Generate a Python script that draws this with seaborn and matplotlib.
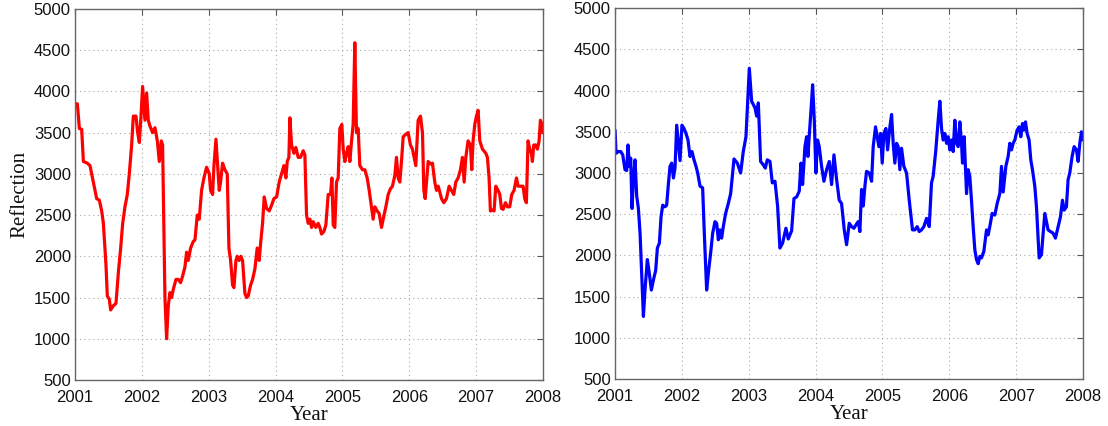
import numpy as np
import pandas as pd
import matplotlib
matplotlib.use("Agg")
import matplotlib.pyplot as plt
import seaborn as sns

# Left panel series (red)
red_years = [
    2001.000, 2001.035, 2001.065, 2001.100, 2001.125, 2001.184, 2001.224, 2001.274,
    2001.324, 2001.364, 2001.399, 2001.424, 2001.463, 2001.483, 2001.513, 2001.533,
    2001.573, 2001.613, 2001.648, 2001.683, 2001.713, 2001.747, 2001.782, 2001.812,
    2001.847, 2001.872, 2001.912, 2001.937, 2001.962, 2001.987, 2002.011, 2002.046,
    2002.071, 2002.096, 2002.121, 2002.161, 2002.196, 2002.231, 2002.261, 2002.291,
    2002.310, 2002.345, 2002.370, 2002.395, 2002.420, 2002.445, 2002.470, 2002.510,
    2002.545, 2002.579, 2002.609, 2002.644, 2002.669, 2002.694, 2002.729, 2002.769,
    2002.794, 2002.829, 2002.858, 2002.893, 2002.928, 2002.968, 2003.008, 2003.028,
    2003.058, 2003.078, 2003.108, 2003.133, 2003.157, 2003.177, 2003.207, 2003.242,
    2003.277, 2003.302, 2003.327, 2003.357, 2003.377, 2003.407, 2003.427, 2003.456,
    2003.481, 2003.506, 2003.541, 2003.566, 2003.591, 2003.626, 2003.656, 2003.691,
    2003.725, 2003.755, 2003.775, 2003.805, 2003.830, 2003.865, 2003.905, 2003.940,
    2003.975, 2004.015, 2004.054, 2004.089, 2004.124, 2004.154, 2004.174, 2004.199,
    2004.214, 2004.239, 2004.274, 2004.303, 2004.338, 2004.373, 2004.413, 2004.438,
    2004.463, 2004.488, 2004.513, 2004.538, 2004.563, 2004.602, 2004.637, 2004.662,
    2004.687, 2004.722, 2004.752, 2004.787, 2004.822, 2004.842, 2004.862, 2004.886,
    2004.911, 2004.936, 2004.961, 2004.991, 2005.011, 2005.036, 2005.061, 2005.086,
    2005.111, 2005.136, 2005.160, 2005.185, 2005.210, 2005.235, 2005.260, 2005.300,
    2005.335, 2005.370, 2005.400, 2005.434, 2005.459, 2005.484, 2005.519, 2005.549,
    2005.584, 2005.609, 2005.649, 2005.684, 2005.718, 2005.748, 2005.783, 2005.808,
    2005.833, 2005.858, 2005.883, 2005.908, 2005.948, 2005.983, 2006.017, 2006.047,
    2006.072, 2006.097, 2006.132, 2006.167, 2006.197, 2006.217, 2006.237, 2006.257,
    2006.282, 2006.316, 2006.346, 2006.381, 2006.406, 2006.431, 2006.456, 2006.481,
    2006.516, 2006.556, 2006.595, 2006.630, 2006.665, 2006.695, 2006.730, 2006.765,
    2006.795, 2006.820, 2006.845, 2006.879, 2006.914, 2006.934, 2006.954, 2006.979,
    2007.004, 2007.029, 2007.054, 2007.094, 2007.144, 2007.168, 2007.193, 2007.213,
    2007.243, 2007.268, 2007.293, 2007.328, 2007.353, 2007.378, 2007.403, 2007.438,
    2007.467, 2007.502, 2007.532, 2007.567, 2007.602, 2007.627, 2007.662, 2007.702,
    2007.726, 2007.751, 2007.776, 2007.801, 2007.826, 2007.841, 2007.861, 2007.891,
    2007.916, 2007.941, 2007.961, 2007.986, 2008.000,
]
red_values = [
    3850, 3850, 3550, 3540, 3150, 3130, 3100, 2900,
    2700, 2680, 2550, 2400, 1900, 1520, 1480, 1350,
    1400, 1430, 1800, 2100, 2400, 2600, 2750, 3000,
    3350, 3700, 3700, 3500, 3380, 3700, 4060, 3650,
    3980, 3650, 3580, 3500, 3560, 3400, 3150, 3400,
    3350, 1500, 1000, 1400, 1560, 1500, 1600, 1720,
    1720, 1680, 1760, 1870, 2050, 1950, 2100, 2180,
    2200, 2500, 2450, 2800, 2950, 3080, 3000, 2800,
    2750, 3100, 3420, 3100, 2800, 2900, 3130, 3050,
    3000, 2100, 1950, 1650, 1620, 1950, 2000, 1950,
    2000, 1950, 1550, 1500, 1520, 1650, 1720, 1850,
    2100, 1950, 2150, 2400, 2720, 2580, 2550, 2620,
    2700, 2720, 2900, 3000, 3100, 2950, 3150, 3200,
    3680, 3350, 3250, 3320, 3200, 3200, 3280, 3230,
    2500, 2400, 2450, 2350, 2420, 2350, 2400, 2350,
    2270, 2300, 2380, 2750, 2750, 2950, 2380, 2350,
    2900, 2950, 3550, 3600, 3300, 3150, 3250, 3330,
    3150, 3400, 3600, 4590, 3500, 3550, 3100, 3050,
    3050, 2950, 2800, 2600, 2450, 2600, 2550, 2520,
    2350, 2450, 2600, 2750, 2820, 2850, 2980, 3200,
    2950, 2900, 3150, 3450, 3480, 3500, 3350, 3300,
    3200, 3100, 3650, 3700, 3500, 2800, 2700, 2900,
    3150, 3120, 3130, 2900, 2800, 2850, 2780, 2700,
    2650, 2700, 2850, 2800, 2750, 2900, 2950, 3050,
    3200, 2900, 3200, 3400, 3350, 3050, 3400, 3600,
    3700, 3770, 3400, 3300, 3250, 3200, 2950, 2550,
    2560, 2550, 2850, 2800, 2750, 2580, 2570, 2650,
    2600, 2600, 2750, 2800, 2950, 2850, 2850, 2850,
    2700, 2650, 3400, 3300, 3250, 3150, 3350, 3350,
    3300, 3400, 3650, 3600, 3500,
]

# Right panel series (blue)
blue_years = [
    2001.000, 2001.015, 2001.050, 2001.085, 2001.115, 2001.149, 2001.174, 2001.194,
    2001.214, 2001.234, 2001.254, 2001.274, 2001.299, 2001.324, 2001.349, 2001.374,
    2001.399, 2001.424, 2001.448, 2001.483, 2001.513, 2001.543, 2001.573, 2001.608,
    2001.633, 2001.663, 2001.688, 2001.713, 2001.747, 2001.772, 2001.797, 2001.822,
    2001.847, 2001.873, 2001.897, 2001.922, 2001.947, 2001.972, 2002.001, 2002.031,
    2002.061, 2002.091, 2002.121, 2002.151, 2002.181, 2002.211, 2002.236, 2002.271,
    2002.310, 2002.335, 2002.370, 2002.400, 2002.430, 2002.460, 2002.495, 2002.520,
    2002.545, 2002.569, 2002.594, 2002.619, 2002.654, 2002.694, 2002.729, 2002.779,
    2002.829, 2002.878, 2002.918, 2002.958, 2003.008, 2003.043, 2003.093, 2003.118,
    2003.143, 2003.177, 2003.217, 2003.247, 2003.277, 2003.317, 2003.352, 2003.392,
    2003.431, 2003.466, 2003.506, 2003.556, 2003.591, 2003.641, 2003.676, 2003.716,
    2003.755, 2003.780, 2003.805, 2003.840, 2003.865, 2003.885, 2003.905, 2003.930,
    2003.955, 2003.980, 2004.004, 2004.029, 2004.054, 2004.089, 2004.124, 2004.164,
    2004.204, 2004.239, 2004.274, 2004.314, 2004.353, 2004.388, 2004.428, 2004.463,
    2004.503, 2004.538, 2004.573, 2004.602, 2004.637, 2004.662, 2004.687, 2004.712,
    2004.737, 2004.762, 2004.802, 2004.837, 2004.861, 2004.896, 2004.921, 2004.946,
    2004.971, 2004.996, 2005.021, 2005.051, 2005.076, 2005.111, 2005.136, 2005.160,
    2005.185, 2005.210, 2005.235, 2005.260, 2005.285, 2005.320, 2005.360, 2005.400,
    2005.424, 2005.449, 2005.484, 2005.519, 2005.549, 2005.584, 2005.619, 2005.659,
    2005.699, 2005.733, 2005.758, 2005.798, 2005.833, 2005.858, 2005.883, 2005.908,
    2005.933, 2005.958, 2005.983, 2006.007, 2006.032, 2006.057, 2006.082, 2006.107,
    2006.132, 2006.157, 2006.182, 2006.197, 2006.222, 2006.257, 2006.282, 2006.306,
    2006.331, 2006.356, 2006.381, 2006.406, 2006.431, 2006.456, 2006.481, 2006.516,
    2006.556, 2006.580, 2006.605, 2006.640, 2006.680, 2006.715, 2006.755, 2006.780,
    2006.805, 2006.845, 2006.879, 2006.904, 2006.929, 2006.954, 2006.979, 2007.014,
    2007.044, 2007.069, 2007.094, 2007.114, 2007.139, 2007.163, 2007.193, 2007.218,
    2007.243, 2007.278, 2007.303, 2007.343, 2007.378, 2007.403, 2007.428, 2007.452,
    2007.477, 2007.512, 2007.552, 2007.587, 2007.627, 2007.662, 2007.692, 2007.717,
    2007.751, 2007.776, 2007.801, 2007.836, 2007.866, 2007.901, 2007.926, 2007.951,
    2007.976, 2008.000,
]
blue_values = [
    3520, 3240, 3260, 3260, 3220, 3040, 3030, 3340,
    3080, 3180, 2570, 2920, 3160, 2720, 2570, 2270,
    1780, 1260, 1580, 1950, 1780, 1580, 1700, 1820,
    2090, 2150, 2470, 2610, 2590, 2610, 2860, 3080,
    3120, 2940, 3060, 3580, 3360, 3150, 3580, 3540,
    3480, 3400, 3200, 3260, 3160, 3080, 3000, 2840,
    2820, 2270, 1580, 1820, 2030, 2270, 2410, 2390,
    2190, 2310, 2210, 2350, 2510, 2630, 2750, 3170,
    3120, 3000, 3260, 3440, 4270, 3870, 3790, 3690,
    3850, 3140, 3100, 3060, 3160, 3140, 2880, 2900,
    2600, 2090, 2150, 2330, 2200, 2300, 2690, 2710,
    2780, 3120, 2860, 3320, 3440, 3200, 3460, 3750,
    4070, 3640, 3000, 3400, 3320, 3080, 2900, 3040,
    3140, 2860, 3220, 2920, 2670, 2630, 2310, 2130,
    2390, 2350, 2330, 2370, 2410, 2290, 2800, 2600,
    2840, 3020, 3000, 2900, 3320, 3560, 3440, 3320,
    3480, 3120, 3480, 3540, 3280, 3560, 3710, 3360,
    3120, 3360, 3320, 3040, 3300, 3080, 3000, 2670,
    2490, 2310, 2310, 2350, 2290, 2310, 2350, 2450,
    2350, 2880, 2960, 3280, 3640, 3870, 3540, 3400,
    3480, 3360, 3440, 3280, 3400, 3260, 3640, 3360,
    3320, 3620, 3360, 3120, 3440, 2750, 3040, 2960,
    2670, 2350, 2070, 1950, 1900, 1990, 1970, 2050,
    2310, 2250, 2350, 2510, 2490, 2630, 2750, 3080,
    2770, 3080, 3200, 3360, 3280, 3360, 3400, 3520,
    3560, 3440, 3600, 3520, 3620, 3480, 3400, 3160,
    3040, 2840, 2590, 1970, 2010, 2270, 2510, 2410,
    2310, 2290, 2270, 2210, 2350, 2470, 2670, 2550,
    2590, 2920, 3000, 3200, 3320, 3280, 3140, 3360,
    3500, 3400,
]

year_ticks = [2001, 2002, 2003, 2004, 2005, 2006, 2007, 2008]
refl_ticks = [500, 1000, 1500, 2000, 2500, 3000, 3500, 4000, 4500, 5000]

sns.set_theme(style="white")
plt.rcParams["font.family"] = ["Liberation Sans", "DejaVu Sans"]

fig = plt.figure(figsize=(11.08, 4.26), dpi=100)
ax_left = fig.add_axes([0.0677, 0.108, 0.4224, 0.871])
ax_right = fig.add_axes([0.5551, 0.110, 0.4224, 0.871])

panels = [
    (ax_left, red_years, red_values, "#ff0000"),
    (ax_right, blue_years, blue_values, "#0000ff"),
]

for ax, xs, ys, color in panels:
    df = pd.DataFrame({"Year": xs, "Reflection": ys})
    sns.lineplot(data=df, x="Year", y="Reflection", ax=ax, color=color,
                 linewidth=2.3, estimator=None, sort=True)
    ax.set_xlim(2001, 2008)
    ax.set_ylim(500, 5000)
    ax.set_xticks(year_ticks)
    ax.set_xticklabels([str(t) for t in year_ticks])
    ax.set_yticks(refl_ticks)
    ax.set_yticklabels([str(t) for t in refl_ticks])
    ax.grid(True, color="#a8a8a8", linestyle=(0, (1, 3)), linewidth=0.8)
    ax.tick_params(axis="both", which="major", direction="in", length=4,
                   width=0.8, color="#555555", labelsize=12,
                   top=True, right=True, labelcolor="#111111")
    ax.tick_params(axis="x", pad=7)
    ax.tick_params(axis="y", pad=3)
    for spine in ax.spines.values():
        spine.set_visible(True)
        spine.set_color("#666666")
        spine.set_linewidth(1.0)
    ax.set_xlabel("Year", fontsize=15, family=["Liberation Serif", "DejaVu Serif"],
                  labelpad=1, color="#111111")
    ax.set_ylabel("")

ax_left.set_ylabel("Reflection", fontsize=15,
                   family=["Liberation Serif", "DejaVu Serif"], labelpad=3,
                   color="#111111")

fig.savefig("out.png", dpi=100)
